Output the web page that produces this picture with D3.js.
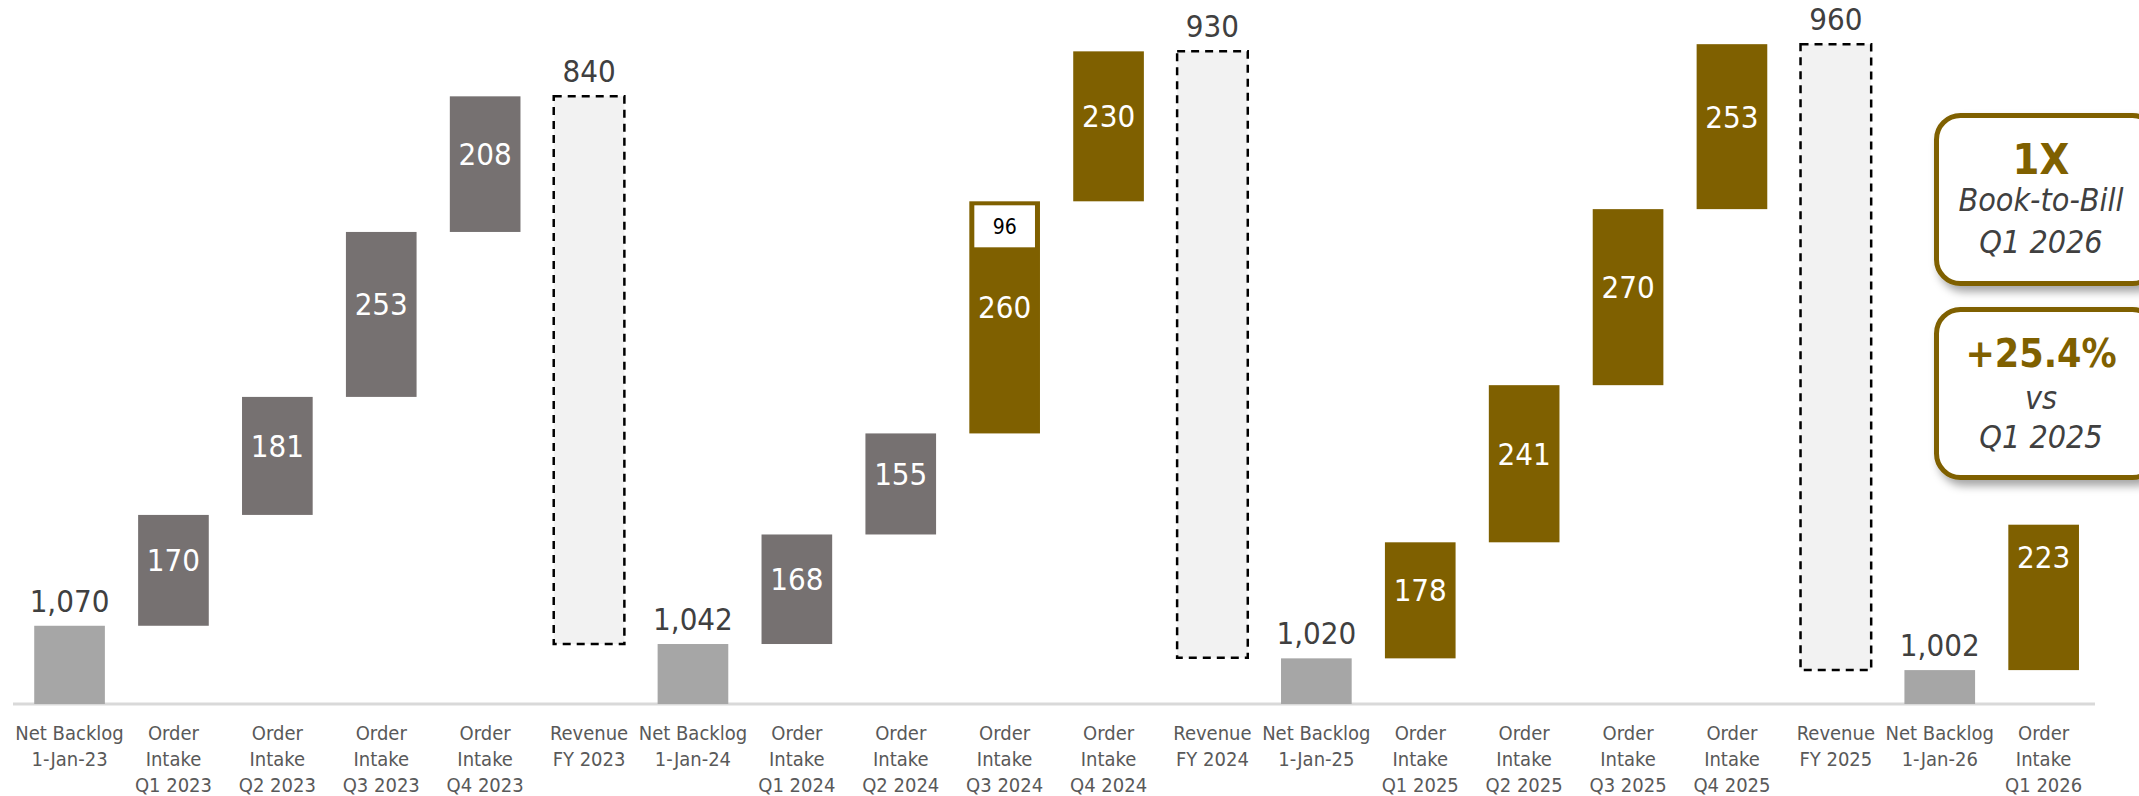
<!DOCTYPE html>
<html>
<head>
<meta charset="utf-8">
<script src="https://cdn.jsdelivr.net/npm/d3@7"></script>
<style>
  body { margin: 0; background: #fff; }
  text { font-family: "Liberation Sans Narrow", "DejaVu Sans Condensed", "Liberation Sans", sans-serif; }
</style>
</head>
<body>
<svg width="2139" height="796"></svg>
<script>
// data
var categories = ["Net Backlog|1-Jan-23", "Order|Intake|Q1 2023", "Order|Intake|Q2 2023", "Order|Intake|Q3 2023", "Order|Intake|Q4 2023", "Revenue|FY 2023",
                  "Net Backlog|1-Jan-24", "Order|Intake|Q1 2024", "Order|Intake|Q2 2024", "Order|Intake|Q3 2024", "Order|Intake|Q4 2024", "Revenue|FY 2024",
                  "Net Backlog|1-Jan-25", "Order|Intake|Q1 2025", "Order|Intake|Q2 2025", "Order|Intake|Q3 2025", "Order|Intake|Q4 2025", "Revenue|FY 2025",
                  "Net Backlog|1-Jan-26", "Order|Intake|Q1 2026"];
var values = [1070, 170, 181, 253, 208, 840, 1042, 168, 155, 260, 230, 930, 1020, 178, 241, 270, 253, 960, 1002, 223];
var kinds = ["backlog", "intake", "intake", "intake", "intake", "revenue",
             "backlog", "intake", "intake", "intake", "intake", "revenue",
             "backlog", "intake", "intake", "intake", "intake", "revenue",
             "backlog", "intake"];
var extras = [0, 0, 0, 0, 0, 0, 0, 0, 0, 96, 0, 0, 0, 0, 0, 0, 0, 0, 0, 0]; // the 96 on top of Q3 2024
var goldFrom = 9; // bars from Order Intake Q3 2024 on are gold
var yDomain = [950, 2000]; // the axis is cut, bars start at 950

var svg = d3.select("svg");
var baseY = 704;

var x = d3.scaleBand().domain(d3.range(categories.length)).range([17.6, 2095.6]).paddingInner(0.32).paddingOuter(0.16);
var y = d3.scaleLinear().domain(yDomain).range([baseY, baseY - (yDomain[1] - yDomain[0]) * 0.652]);

// work out the floating bars
var running = 0;
var bars = values.map(function(v, i) {
  var b = { i: i, v: v, kind: kinds[i], extra: extras[i] };
  if (b.kind == "backlog") { b.lo = yDomain[0]; b.hi = v; running = v; }
  else if (b.kind == "intake") { b.lo = running; b.hi = running + v + b.extra; running = b.hi; }
  else { b.lo = running - v; b.hi = running; running = b.lo; }
  return b;
});

function fillOf(b) {
  if (b.kind == "backlog") return "#A6A6A6";
  if (b.kind == "revenue") return "#F2F2F2";
  return b.i >= goldFrom ? "#7F6000" : "#767171";
}

// axis line
svg.append("line")
   .attr("x1", 13).attr("x2", 2095)
   .attr("y1", baseY).attr("y2", baseY)
   .attr("stroke", "#D9D9D9").attr("stroke-width", 3);

svg.selectAll(".bar")
   .data(bars)
   .enter().append("rect")
   .attr("class", "bar")
   .attr("x", function(d) { return x(d.i); })
   .attr("y", function(d) { return y(d.hi); })
   .attr("width", x.bandwidth())
   .attr("height", function(d) { return y(d.lo) - y(d.hi); })
   .attr("fill", fillOf)
   .attr("stroke", function(d) { return d.kind == "revenue" ? "#000" : "none"; })
   .attr("stroke-width", 2.5)
   .attr("stroke-dasharray", function(d) { return d.kind == "revenue" ? "8,6" : null; });

// labels above backlog and revenue
svg.selectAll(".top")
   .data(bars.filter(function(d) { return d.kind != "intake"; }))
   .enter().append("text")
   .attr("x", function(d) { return x(d.i) + x.bandwidth() / 2; })
   .attr("y", function(d) { return y(d.hi) - 14; })
   .attr("text-anchor", "middle")
   .attr("font-size", "31px")
   .attr("fill", "#404040")
   .text(function(d) { return d3.format(",")(d.v); });

// labels inside the intake bars (the latest quarter sits near the top of its bar)
var last = categories.length - 1;
svg.selectAll(".inner")
   .data(bars.filter(function(d) { return d.kind == "intake"; }))
   .enter().append("text")
   .attr("x", function(d) { return x(d.i) + x.bandwidth() / 2; })
   .attr("y", function(d) { return d.i == last ? y(d.hi) + 43 : (y(d.lo) + y(d.hi)) / 2 + 1; })
   .attr("text-anchor", "middle")
   .attr("font-size", "31px")
   .attr("fill", "#fff")
   .text(function(d) { return d.v; });

// the white 96 box
var ex = bars.filter(function(d) { return d.extra > 0; });
svg.selectAll(".extra")
   .data(ex)
   .enter().append("rect")
   .attr("x", function(d) { return x(d.i) + 5; })
   .attr("y", function(d) { return y(d.hi) + 4; })
   .attr("width", x.bandwidth() - 10)
   .attr("height", 42)
   .attr("fill", "#fff");
svg.selectAll(".extraText")
   .data(ex)
   .enter().append("text")
   .attr("x", function(d) { return x(d.i) + x.bandwidth() / 2; })
   .attr("y", function(d) { return y(d.hi) + 33; })
   .attr("text-anchor", "middle")
   .attr("font-size", "21px")
   .attr("fill", "#000")
   .text(function(d) { return d.extra; });

// category labels
var cat = svg.selectAll(".cat")
   .data(categories)
   .enter().append("text")
   .attr("text-anchor", "middle")
   .attr("font-size", "20px")
   .attr("fill", "#595959");
cat.selectAll("tspan")
   .data(function(d, i) { return d.split("|").map(function(s) { return { s: s, i: i }; }); })
   .enter().append("tspan")
   .attr("x", function(d) { return x(d.i) + x.bandwidth() / 2; })
   .attr("y", function(d, j) { return 740 + j * 26; })
   .text(function(d) { return d.s; });

// call-out boxes on the right
var defs = svg.append("defs");
var f = defs.append("filter").attr("id", "shadow").attr("x", "-20%").attr("y", "-20%").attr("width", "150%").attr("height", "150%");
f.append("feDropShadow").attr("dx", 4).attr("dy", 6).attr("stdDeviation", 4).attr("flood-color", "#000").attr("flood-opacity", 0.35);

var boxes = [
  { top: 115.5, lines: ["1X", "Book-to-Bill", "Q1 2026"] },
  { top: 309.5, lines: ["+25.4%", "vs", "Q1 2025"] }
];
var lineY = [[174, 211, 253], [367, 409, 448]];
var lineSize = [[43, 32, 32], [39, 32, 32]];

boxes.forEach(function(b, k) {
  svg.append("rect")
     .attr("x", 1936.5).attr("y", b.top)
     .attr("width", 220).attr("height", 168)
     .attr("rx", 24).attr("ry", 24)
     .attr("fill", "#fff")
     .attr("stroke", "#7F6000").attr("stroke-width", 5)
     .attr("filter", "url(#shadow)");
  b.lines.forEach(function(s, j) {
    svg.append("text")
       .attr("x", 2041).attr("y", lineY[k][j])
       .attr("text-anchor", "middle")
       .attr("font-size", lineSize[k][j] + "px")
       .attr("font-weight", j == 0 ? "bold" : "normal")
       .attr("font-style", j == 0 ? "normal" : "italic")
       .attr("fill", j == 0 ? "#7F6000" : "#404040")
       .text(s);
  });
});
</script>
</body>
</html>
